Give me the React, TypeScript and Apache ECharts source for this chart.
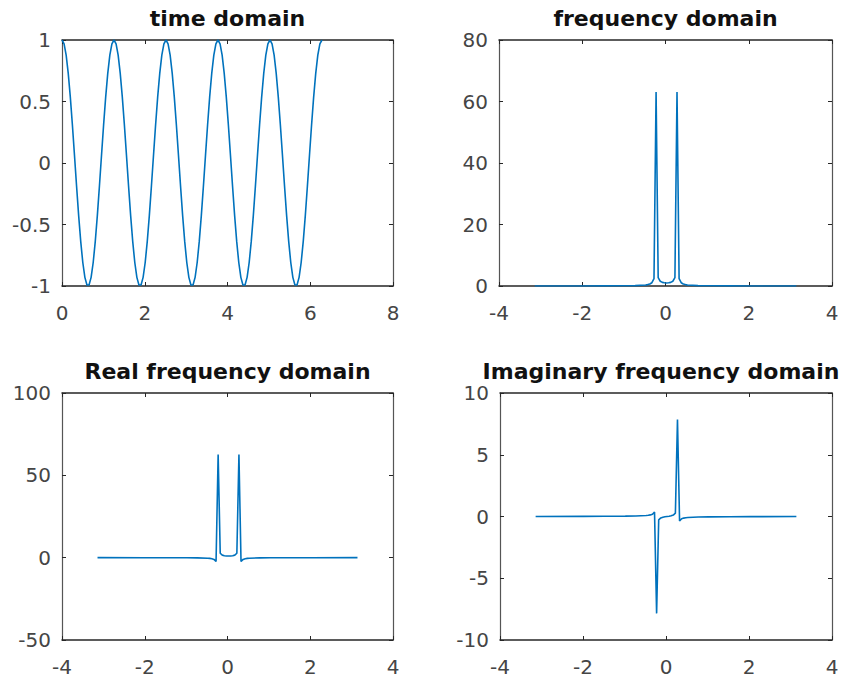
import React, { useEffect, useRef } from "react";
import * as echarts from "echarts";

// Sampled signal: cos(5t) over one 2π window (126 samples).
const timeStep = 0.050265;
const signal = [
  1, 0.9686, 0.8763, 0.729, 0.5358, 0.309, 0.0628, -0.1874, -0.4258, -0.6374, -0.809, -0.9298, -0.9921, -0.9921, -0.9298, -0.809, -0.6374, -0.4258, -0.1874, 0.0628, 0.309, 0.5358, 0.729, 0.8763, 0.9686,
  1, 0.9686, 0.8763, 0.729, 0.5358, 0.309, 0.0628, -0.1874, -0.4258, -0.6374, -0.809, -0.9298, -0.9921, -0.9921, -0.9298, -0.809, -0.6374, -0.4258, -0.1874, 0.0628, 0.309, 0.5358, 0.729, 0.8763, 0.9686,
  1, 0.9686, 0.8763, 0.729, 0.5358, 0.309, 0.0628, -0.1874, -0.4258, -0.6374, -0.809, -0.9298, -0.9921, -0.9921, -0.9298, -0.809, -0.6374, -0.4258, -0.1874, 0.0628, 0.309, 0.5358, 0.729, 0.8763, 0.9686,
  1, 0.9686, 0.8763, 0.729, 0.5358, 0.309, 0.0628, -0.1874, -0.4258, -0.6374, -0.809, -0.9298, -0.9921, -0.9921, -0.9298, -0.809, -0.6374, -0.4258, -0.1874, 0.0628, 0.309, 0.5358, 0.729, 0.8763, 0.9686,
  1, 0.9686, 0.8763, 0.729, 0.5358, 0.309, 0.0628, -0.1874, -0.4258, -0.6374, -0.809, -0.9298, -0.9921, -0.9921, -0.9298, -0.809, -0.6374, -0.4258, -0.1874, 0.0628, 0.309, 0.5358, 0.729, 0.8763, 0.9686,
  1,
];

// Shifted spectrum: frequency (rad/sample) and the DFT at those bins.
const freqBins = [
  -3.1416, -1.9855, -1.4828, -0.9802, -0.7288, -0.4775, -0.4273, -0.377, -0.3267, -0.2765, -0.2262, -0.1759, -0.1257, -0.0754, -0.0251,
  0.0251, 0.0754, 0.1257, 0.1759, 0.2262, 0.2765, 0.3267, 0.377, 0.4273, 0.4775, 0.5278, 0.7791, 1.0304, 1.5331, 2.0358, 3.1416,
];
const magnitude = [
  0, 0.0124, 0.0258, 0.0648, 0.1242, 0.3369, 0.453, 0.6537, 1.0709, 2.3877, 63.094, 2.6974, 1.5473, 1.1864, 1.0409,
  1.0, 1.0409, 1.1864, 1.5473, 2.6974, 63.094, 2.3877, 1.0709, 0.6537, 0.453, 0.3369, 0.1242, 0.0648, 0.0258, 0.0124, 0.0004,
];
const realPart = [
  0, -0.0067, -0.0189, -0.0569, -0.1156, -0.3265, -0.4416, -0.6407, -1.0546, -2.3611, 62.604, 2.684, 1.543, 1.1849, 1.0406,
  1.0, 1.0406, 1.1849, 1.543, 2.684, 62.604, -2.3611, -1.0546, -0.6407, -0.4416, -0.3265, -0.1156, -0.0569, -0.0189, -0.0067, 0,
];
const imagPart = [
  0, 0.0104, 0.0175, 0.031, 0.0454, 0.0831, 0.1008, 0.1295, 0.186, 0.3559, -7.845, -0.2686, -0.1156, -0.0591, -0.026,
  0, 0.026, 0.0591, 0.1156, 0.2686, 7.845, -0.3559, -0.186, -0.1295, -0.1008, -0.0831, -0.0454, -0.031, -0.0175, -0.0104, -0.0004,
];

// Axis limits: [xMin, xMax, xStep, yMin, yMax, yStep]
const panelTitles = ["time domain", "frequency domain", "Real frequency domain", "Imaginary frequency domain"];
const panelLimits = [
  [0, 8, 2, -1, 1, 0.5],
  [-4, 4, 2, 0, 80, 20],
  [-4, 4, 2, -50, 100, 50],
  [-4, 4, 2, -10, 10, 5],
];

const FONT = '"DejaVu Sans", "Liberation Sans", Arial, sans-serif';
const AXIS_DARK = "#262626";
const LINE_BLUE = "#0072BD";

const grids = [
  { left: 62, top: 40, width: 331, height: 246 },
  { left: 499, top: 40, width: 333, height: 246 },
  { left: 62, top: 393, width: 331, height: 247 },
  { left: 500, top: 393, width: 332, height: 247 },
];
const titleAnchors = [
  [227.5, 18],
  [665.5, 18],
  [227.5, 371],
  [661, 371],
];

function makeXAxis(gridIndex: number, min: number, max: number, interval: number, position: "bottom" | "top") {
  const main = position === "bottom";
  return {
    type: "value",
    gridIndex,
    position,
    min,
    max,
    interval,
    axisLine: { show: true, onZero: false, lineStyle: { color: AXIS_DARK, width: 1.5 } },
    axisTick: { show: true, inside: true, length: 4, lineStyle: { color: AXIS_DARK, width: 1 } },
    axisLabel: {
      show: main,
      margin: 17,
      fontSize: 20,
      fontFamily: FONT,
      color: "#454545",
    },
    splitLine: { show: false },
  };
}

function makeYAxis(gridIndex: number, min: number, max: number, interval: number, position: "left" | "right") {
  const main = position === "left";
  return {
    type: "value",
    gridIndex,
    position,
    min,
    max,
    interval,
    axisLine: { show: true, onZero: false, lineStyle: { color: "#555555", width: 1.2 } },
    axisTick: { show: true, inside: true, length: 4, lineStyle: { color: AXIS_DARK, width: 1 } },
    axisLabel: {
      show: main,
      margin: 11,
      fontSize: 20,
      fontFamily: FONT,
      color: "#454545",
    },
    splitLine: { show: false },
  };
}

export default function App() {
  const ref = useRef<HTMLDivElement>(null);

  useEffect(() => {
    if (!ref.current) return;
    const chart = echarts.init(ref.current, null, { renderer: "svg" });

    const timeData = signal.map((v, i) => [i * timeStep, v]);
    const magData = freqBins.map((w, i) => [w, magnitude[i]]);
    const realData = freqBins.map((w, i) => [w, realPart[i]]);
    const imagData = freqBins.map((w, i) => [w, imagPart[i]]);
    const panelData = [timeData, magData, realData, imagData];

    const xAxes: any[] = [];
    const yAxes: any[] = [];
    panelLimits.forEach((lim, g) => {
      xAxes.push(makeXAxis(g, lim[0], lim[1], lim[2], "bottom"));
      xAxes.push(makeXAxis(g, lim[0], lim[1], lim[2], "top"));
      yAxes.push(makeYAxis(g, lim[3], lim[4], lim[5], "left"));
      yAxes.push(makeYAxis(g, lim[3], lim[4], lim[5], "right"));
    });

    const series = panelData.map((data, g) => ({
      type: "line",
      xAxisIndex: g * 2,
      yAxisIndex: g * 2,
      data,
      showSymbol: false,
      symbol: "none",
      clip: true,
      lineStyle: { color: LINE_BLUE, width: 1.6 },
      emphasis: { disabled: true },
    }));

    const titles = panelTitles.map((text, g) => ({
      type: "text",
      x: titleAnchors[g][0],
      y: titleAnchors[g][1],
      style: {
        text,
        font: `bold 22px ${FONT}`,
        fill: "#111111",
        align: "center",
        verticalAlign: "middle",
        textAlign: "center",
        textVerticalAlign: "middle",
      },
    }));

    chart.setOption({
      animation: false,
      backgroundColor: "#ffffff",
      grid: grids,
      xAxis: xAxes,
      yAxis: yAxes,
      series,
      graphic: titles,
    });

    return () => chart.dispose();
  }, []);

  return (
    <div
      ref={ref}
      style={{ position: "fixed", left: 0, top: 0, width: 849, height: 679, background: "#ffffff" }}
    />
  );
}
